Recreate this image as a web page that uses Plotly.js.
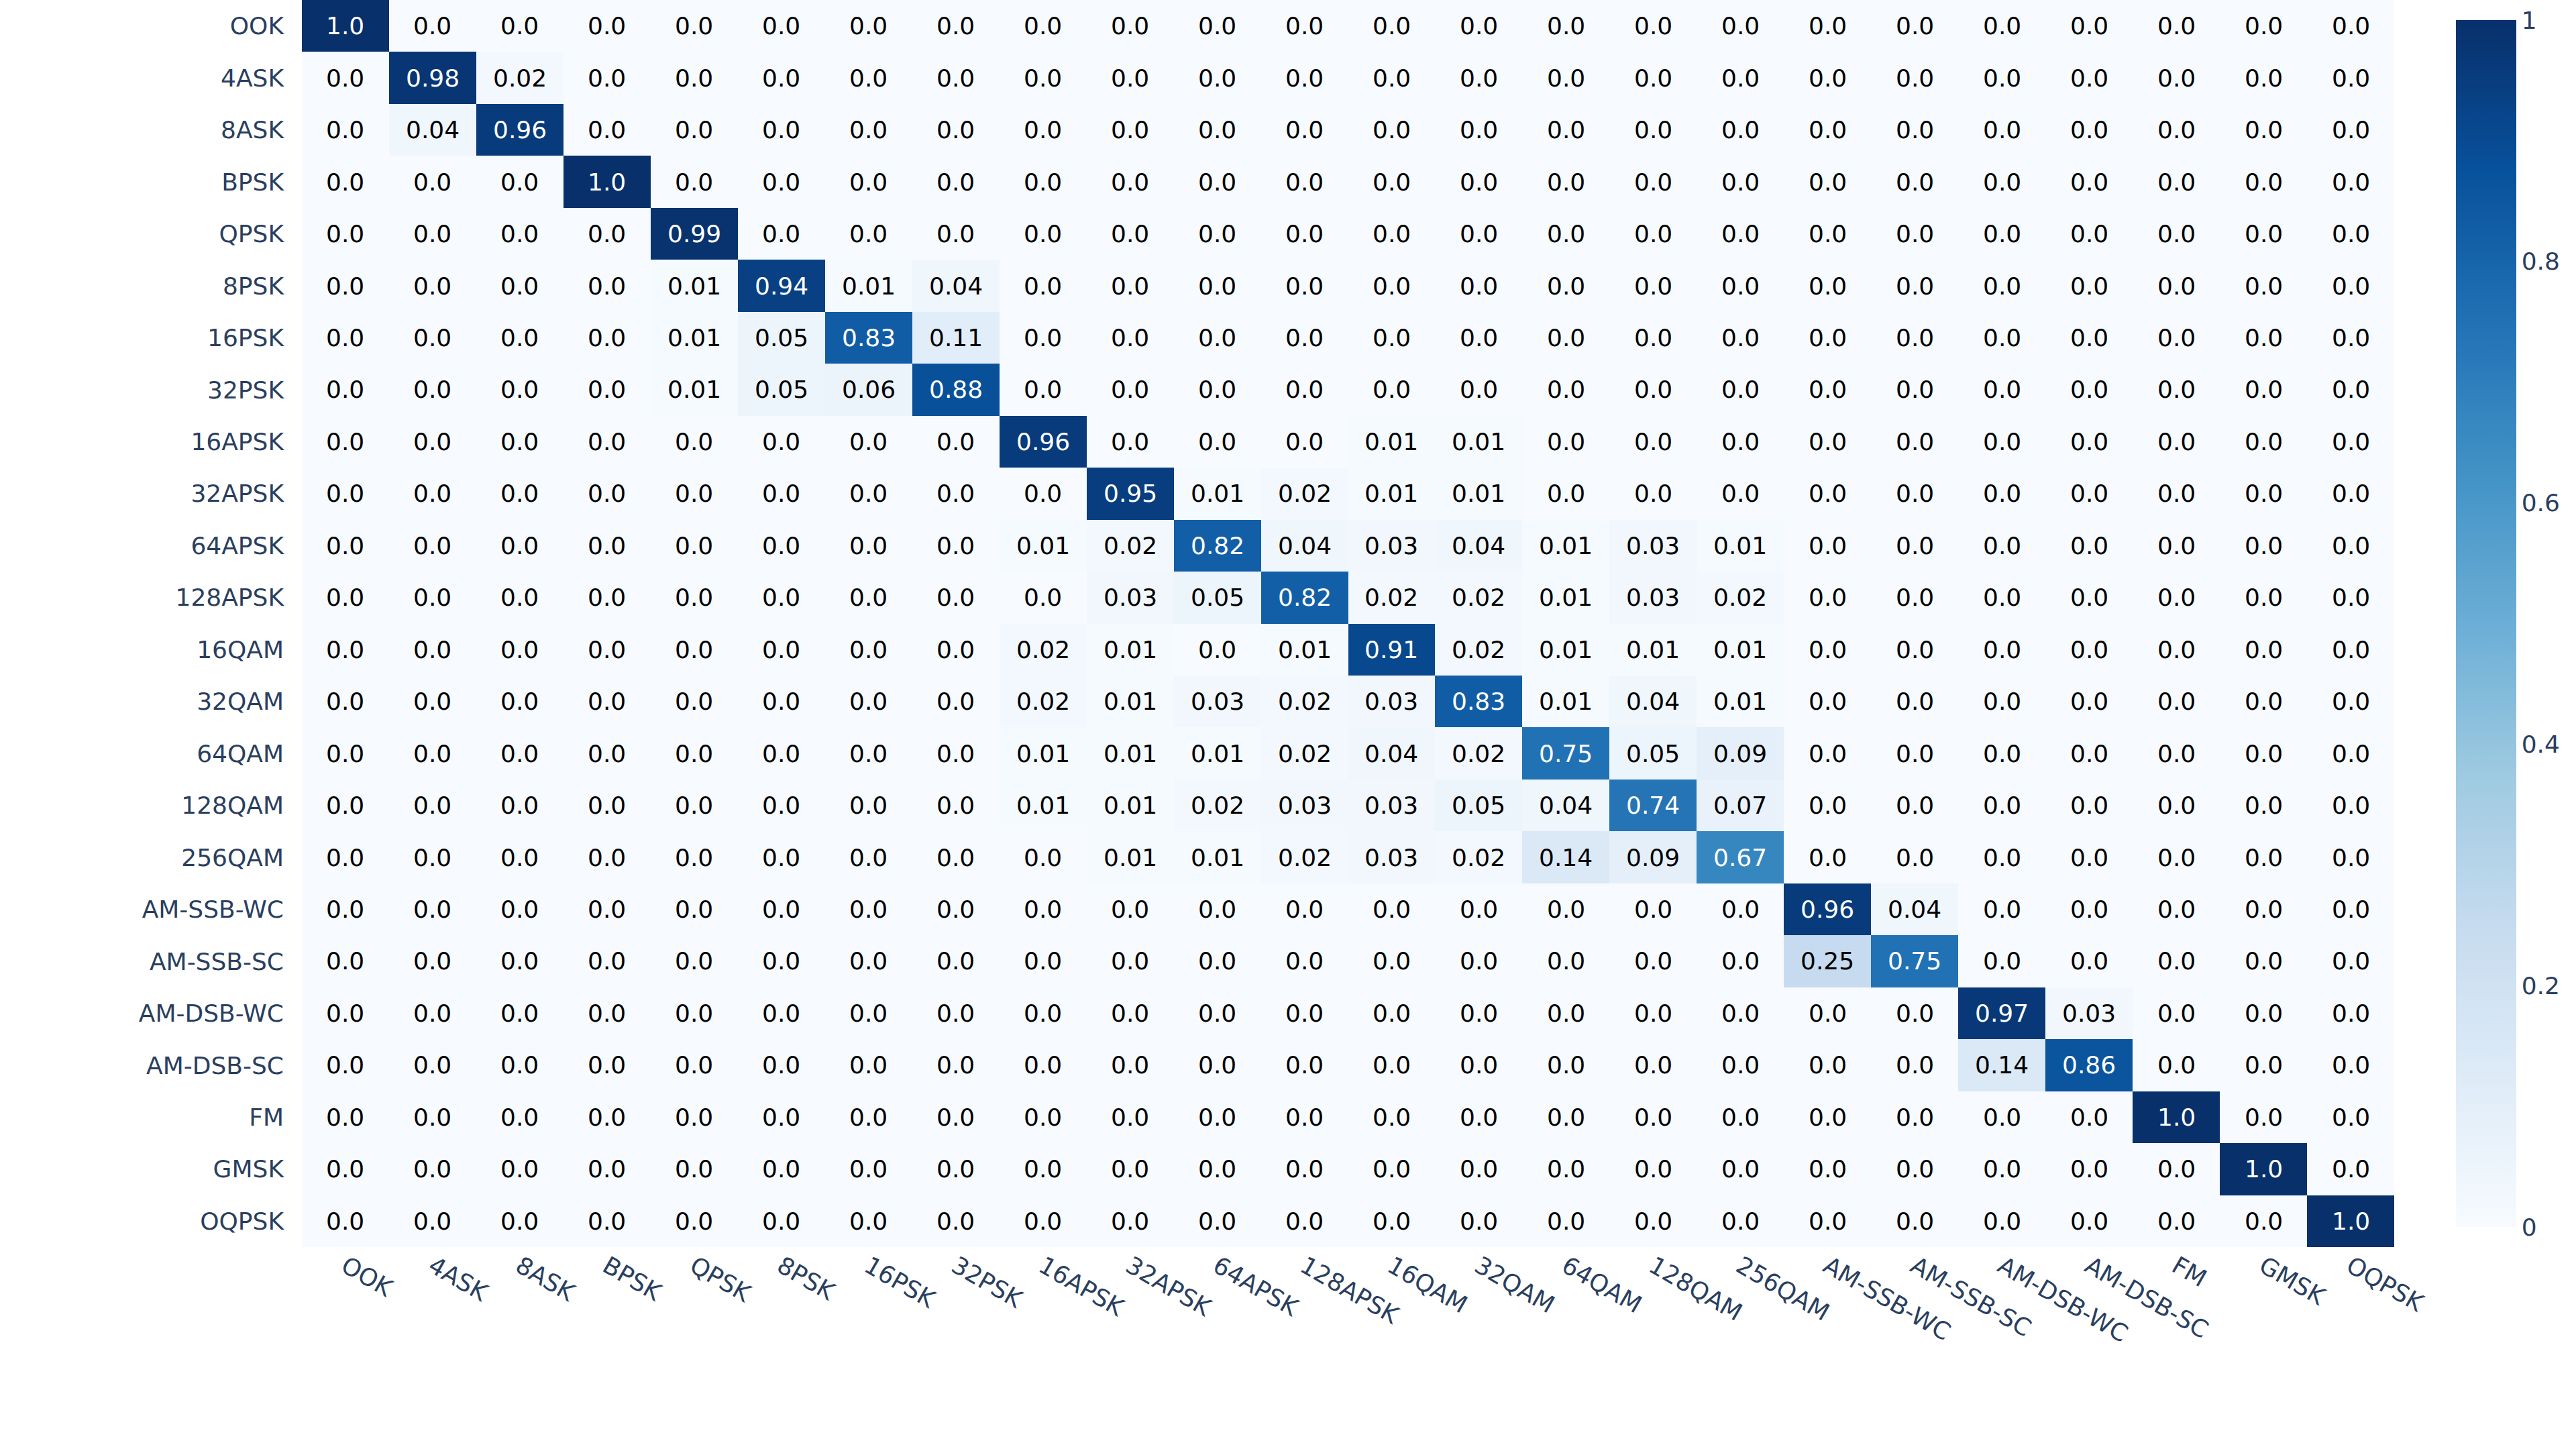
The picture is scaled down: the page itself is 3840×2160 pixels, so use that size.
<!DOCTYPE html>
<html>
<head>
<meta charset="utf-8">
<script src="https://cdn.plot.ly/plotly-3.0.1.min.js"></script>
<style>
  html, body { margin: 0; padding: 0; background: #fff; }
  #myDiv { width: 3840px; height: 2160px; }
</style>
</head>
<body>
<div id="myDiv"></div>
<script>
// class names, same order on both axes
var classes = ['OOK', '4ASK', '8ASK', 'BPSK', 'QPSK', '8PSK', '16PSK', '32PSK',
  '16APSK', '32APSK', '64APSK', '128APSK', '16QAM', '32QAM', '64QAM', '128QAM',
  '256QAM', 'AM-SSB-WC', 'AM-SSB-SC', 'AM-DSB-WC', 'AM-DSB-SC', 'FM', 'GMSK', 'OQPSK'];

// one row per true class (predicted class along the row)
var rowOOK      = [1.0, 0, 0, 0, 0, 0, 0, 0, 0, 0, 0, 0, 0, 0, 0, 0, 0, 0, 0, 0, 0, 0, 0, 0];
var row4ASK     = [0, 0.98, 0.02, 0, 0, 0, 0, 0, 0, 0, 0, 0, 0, 0, 0, 0, 0, 0, 0, 0, 0, 0, 0, 0];
var row8ASK     = [0, 0.04, 0.96, 0, 0, 0, 0, 0, 0, 0, 0, 0, 0, 0, 0, 0, 0, 0, 0, 0, 0, 0, 0, 0];
var rowBPSK     = [0, 0, 0, 1.0, 0, 0, 0, 0, 0, 0, 0, 0, 0, 0, 0, 0, 0, 0, 0, 0, 0, 0, 0, 0];
var rowQPSK     = [0, 0, 0, 0, 0.99, 0, 0, 0, 0, 0, 0, 0, 0, 0, 0, 0, 0, 0, 0, 0, 0, 0, 0, 0];
var row8PSK     = [0, 0, 0, 0, 0.01, 0.94, 0.01, 0.04, 0, 0, 0, 0, 0, 0, 0, 0, 0, 0, 0, 0, 0, 0, 0, 0];
var row16PSK    = [0, 0, 0, 0, 0.01, 0.05, 0.83, 0.11, 0, 0, 0, 0, 0, 0, 0, 0, 0, 0, 0, 0, 0, 0, 0, 0];
var row32PSK    = [0, 0, 0, 0, 0.01, 0.05, 0.06, 0.88, 0, 0, 0, 0, 0, 0, 0, 0, 0, 0, 0, 0, 0, 0, 0, 0];
var row16APSK   = [0, 0, 0, 0, 0, 0, 0, 0, 0.96, 0, 0, 0, 0.01, 0.01, 0, 0, 0, 0, 0, 0, 0, 0, 0, 0];
var row32APSK   = [0, 0, 0, 0, 0, 0, 0, 0, 0, 0.95, 0.01, 0.02, 0.01, 0.01, 0, 0, 0, 0, 0, 0, 0, 0, 0, 0];
var row64APSK   = [0, 0, 0, 0, 0, 0, 0, 0, 0.01, 0.02, 0.82, 0.04, 0.03, 0.04, 0.01, 0.03, 0.01, 0, 0, 0, 0, 0, 0, 0];
var row128APSK  = [0, 0, 0, 0, 0, 0, 0, 0, 0, 0.03, 0.05, 0.82, 0.02, 0.02, 0.01, 0.03, 0.02, 0, 0, 0, 0, 0, 0, 0];
var row16QAM    = [0, 0, 0, 0, 0, 0, 0, 0, 0.02, 0.01, 0, 0.01, 0.91, 0.02, 0.01, 0.01, 0.01, 0, 0, 0, 0, 0, 0, 0];
var row32QAM    = [0, 0, 0, 0, 0, 0, 0, 0, 0.02, 0.01, 0.03, 0.02, 0.03, 0.83, 0.01, 0.04, 0.01, 0, 0, 0, 0, 0, 0, 0];
var row64QAM    = [0, 0, 0, 0, 0, 0, 0, 0, 0.01, 0.01, 0.01, 0.02, 0.04, 0.02, 0.75, 0.05, 0.09, 0, 0, 0, 0, 0, 0, 0];
var row128QAM   = [0, 0, 0, 0, 0, 0, 0, 0, 0.01, 0.01, 0.02, 0.03, 0.03, 0.05, 0.04, 0.74, 0.07, 0, 0, 0, 0, 0, 0, 0];
var row256QAM   = [0, 0, 0, 0, 0, 0, 0, 0, 0, 0.01, 0.01, 0.02, 0.03, 0.02, 0.14, 0.09, 0.67, 0, 0, 0, 0, 0, 0, 0];
var rowSSBWC    = [0, 0, 0, 0, 0, 0, 0, 0, 0, 0, 0, 0, 0, 0, 0, 0, 0, 0.96, 0.04, 0, 0, 0, 0, 0];
var rowSSBSC    = [0, 0, 0, 0, 0, 0, 0, 0, 0, 0, 0, 0, 0, 0, 0, 0, 0, 0.25, 0.75, 0, 0, 0, 0, 0];
var rowDSBWC    = [0, 0, 0, 0, 0, 0, 0, 0, 0, 0, 0, 0, 0, 0, 0, 0, 0, 0, 0, 0.97, 0.03, 0, 0, 0];
var rowDSBSC    = [0, 0, 0, 0, 0, 0, 0, 0, 0, 0, 0, 0, 0, 0, 0, 0, 0, 0, 0, 0.14, 0.86, 0, 0, 0];
var rowFM       = [0, 0, 0, 0, 0, 0, 0, 0, 0, 0, 0, 0, 0, 0, 0, 0, 0, 0, 0, 0, 0, 1.0, 0, 0];
var rowGMSK     = [0, 0, 0, 0, 0, 0, 0, 0, 0, 0, 0, 0, 0, 0, 0, 0, 0, 0, 0, 0, 0, 0, 1.0, 0];
var rowOQPSK    = [0, 0, 0, 0, 0, 0, 0, 0, 0, 0, 0, 0, 0, 0, 0, 0, 0, 0, 0, 0, 0, 0, 0, 1.0];

var z = [rowOOK, row4ASK, row8ASK, rowBPSK, rowQPSK, row8PSK, row16PSK, row32PSK,
  row16APSK, row32APSK, row64APSK, row128APSK, row16QAM, row32QAM, row64QAM, row128QAM,
  row256QAM, rowSSBWC, rowSSBSC, rowDSBWC, rowDSBSC, rowFM, rowGMSK, rowOQPSK];

// colorbrewer blues
var blues = [
  [0, 'rgb(247,251,255)'], [0.125, 'rgb(222,235,247)'], [0.25, 'rgb(198,219,239)'],
  [0.375, 'rgb(158,202,225)'], [0.5, 'rgb(107,174,214)'], [0.625, 'rgb(66,146,198)'],
  [0.75, 'rgb(33,113,181)'], [0.875, 'rgb(8,81,156)'], [1, 'rgb(8,48,107)']
];

var fontFam = '"DejaVu Sans", Verdana, sans-serif';

// cell labels like python str(float)
function label(v) {
  return Number.isInteger(v) ? v.toFixed(1) : String(v);
}

var annotations = [];
for (var i = 0; i < z.length; i++) {
  for (var j = 0; j < z[i].length; j++) {
    var v = z[i][j];
    annotations.push({
      x: classes[j], y: classes[i], xref: 'x', yref: 'y',
      text: label(v), showarrow: false,
      font: {family: fontFam, size: 36, color: v > 0.5 ? '#ffffff' : '#000000'}
    });
  }
}

var trace = {
  type: 'heatmap',
  x: classes,
  y: classes,
  z: z,
  zmin: 0,
  zmax: 1,
  colorscale: blues,
  hoverinfo: 'none',
  colorbar: {
    thickness: 90,
    xpad: 30,
    ypad: 30,
    outlinewidth: 0,
    tickfont: {family: fontFam, size: 36, color: '#2a3f5f'},
    ticklen: 0
  }
};

var layout = {
  width: 3840,
  height: 2160,
  margin: {l: 450, r: 271, t: 0, b: 301},
  paper_bgcolor: '#ffffff',
  plot_bgcolor: '#ffffff',
  font: {family: fontFam, size: 36, color: '#2a3f5f'},
  xaxis: {
    type: 'category', tickangle: 30, showgrid: false, zeroline: false,
    ticks: '', ticklen: 0, automargin: false,
    tickfont: {family: fontFam, size: 36, color: '#2a3f5f'}
  },
  yaxis: {
    type: 'category', autorange: 'reversed', showgrid: false, zeroline: false,
    ticks: '', automargin: false, ticklabelstandoff: 26,
    tickfont: {family: fontFam, size: 36, color: '#2a3f5f'}
  },
  annotations: annotations
};

Plotly.newPlot('myDiv', [trace], layout, {staticPlot: true});
</script>
</body>
</html>
